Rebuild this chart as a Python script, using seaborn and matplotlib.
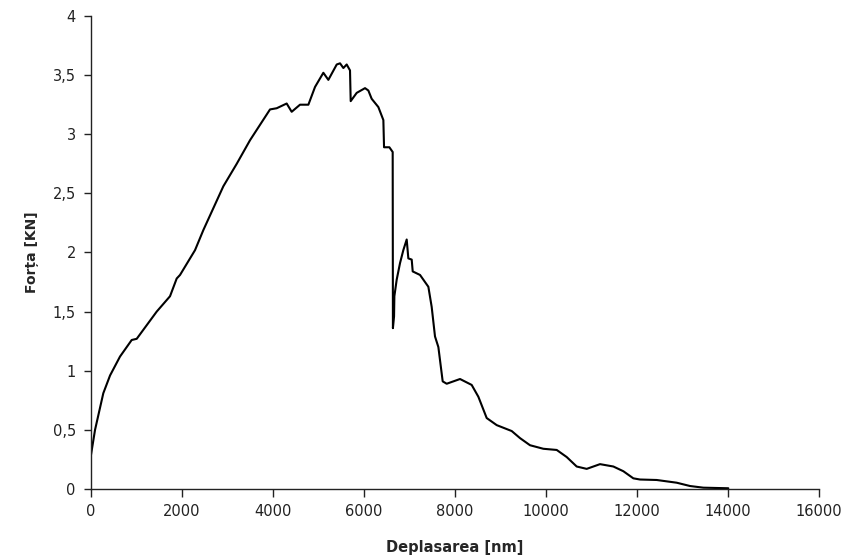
import matplotlib
matplotlib.use("Agg")
import matplotlib.pyplot as plt
import matplotlib.ticker as mticker
import pandas as pd
import seaborn as sns

# Displacement [nm] and force [kN] of the tensile test record
deplasare = [0, 88, 270, 418, 637, 894, 1004, 1443, 1736, 1883, 1956, 2286,
             2469, 2908, 3202, 3495, 3934, 4081, 4300, 4410, 4593, 4777,
             4923, 5106, 5216, 5400, 5473, 5546, 5619, 5692, 5707, 5839,
             6022, 6095, 6168, 6315, 6425, 6440, 6557, 6630, 6635, 6660,
             6667, 6718, 6791, 6864, 6938, 6974, 7048, 7070, 7231, 7414,
             7487, 7560, 7634, 7670, 7729, 7817, 8110, 8366, 8513, 8696,
             8916, 9246, 9429, 9648, 9941, 10235, 10455, 10674, 10894,
             11187, 11480, 11700, 11919, 12066, 12432, 12872, 13165, 13458,
             14007]
forta = [0.29, 0.50, 0.81, 0.96, 1.12, 1.26, 1.27, 1.50, 1.63, 1.78, 1.81,
         2.02, 2.19, 2.56, 2.75, 2.95, 3.21, 3.22, 3.26, 3.19, 3.25, 3.25,
         3.40, 3.52, 3.46, 3.59, 3.60, 3.56, 3.59, 3.54, 3.28, 3.35, 3.39,
         3.37, 3.30, 3.23, 3.12, 2.89, 2.89, 2.85, 1.36, 1.46, 1.63, 1.77,
         1.91, 2.02, 2.11, 1.95, 1.94, 1.84, 1.81, 1.71, 1.54, 1.29, 1.20,
         1.09, 0.91, 0.89, 0.93, 0.88, 0.78, 0.60, 0.54, 0.49, 0.43, 0.37,
         0.34, 0.33, 0.27, 0.19, 0.17, 0.21, 0.19, 0.15, 0.09, 0.08, 0.076,
         0.053, 0.025, 0.011, 0.006]

x_ticks = [0, 2000, 4000, 6000, 8000, 10000, 12000, 14000, 16000]
y_ticks = [0, 0.5, 1, 1.5, 2, 2.5, 3, 3.5, 4]

df = pd.DataFrame({"Deplasarea": deplasare, "Forta": forta})

sns.set_style("ticks")
plt.rcParams["font.family"] = ["DejaVu Sans"]

fig = plt.figure(figsize=(8.46, 5.58), dpi=100)
ax = fig.add_axes([0.1076, 0.1237, 0.8605, 0.8476])

sns.lineplot(data=df, x="Deplasarea", y="Forta", ax=ax, sort=False,
             estimator=None, color="black", linewidth=1.5)

ax.set_xlim(0, 16000)
ax.set_ylim(0, 4)
ax.set_xticks(x_ticks)
ax.set_yticks(y_ticks)
ax.yaxis.set_major_formatter(
    mticker.FuncFormatter(lambda v, _: f"{v:g}".replace(".", ",")))
ax.xaxis.set_major_formatter(mticker.FuncFormatter(lambda v, _: f"{v:g}"))

sns.despine(ax=ax)
for side in ("left", "bottom"):
    ax.spines[side].set_color("#222222")
    ax.spines[side].set_linewidth(1.0)
ax.tick_params(axis="both", direction="out", length=6, width=1.0,
               color="#222222", labelsize=10.5, labelcolor="#222222")
ax.tick_params(axis="x", pad=5)
ax.tick_params(axis="y", length=5, pad=6)

ax.set_xlabel("Deplasarea [nm]", fontsize=10.5, fontweight="bold",
              labelpad=15)
ax.set_ylabel("Forța [KN]", fontsize=10, fontweight="bold",
              labelpad=10)

fig.savefig("out.png", dpi=100)
